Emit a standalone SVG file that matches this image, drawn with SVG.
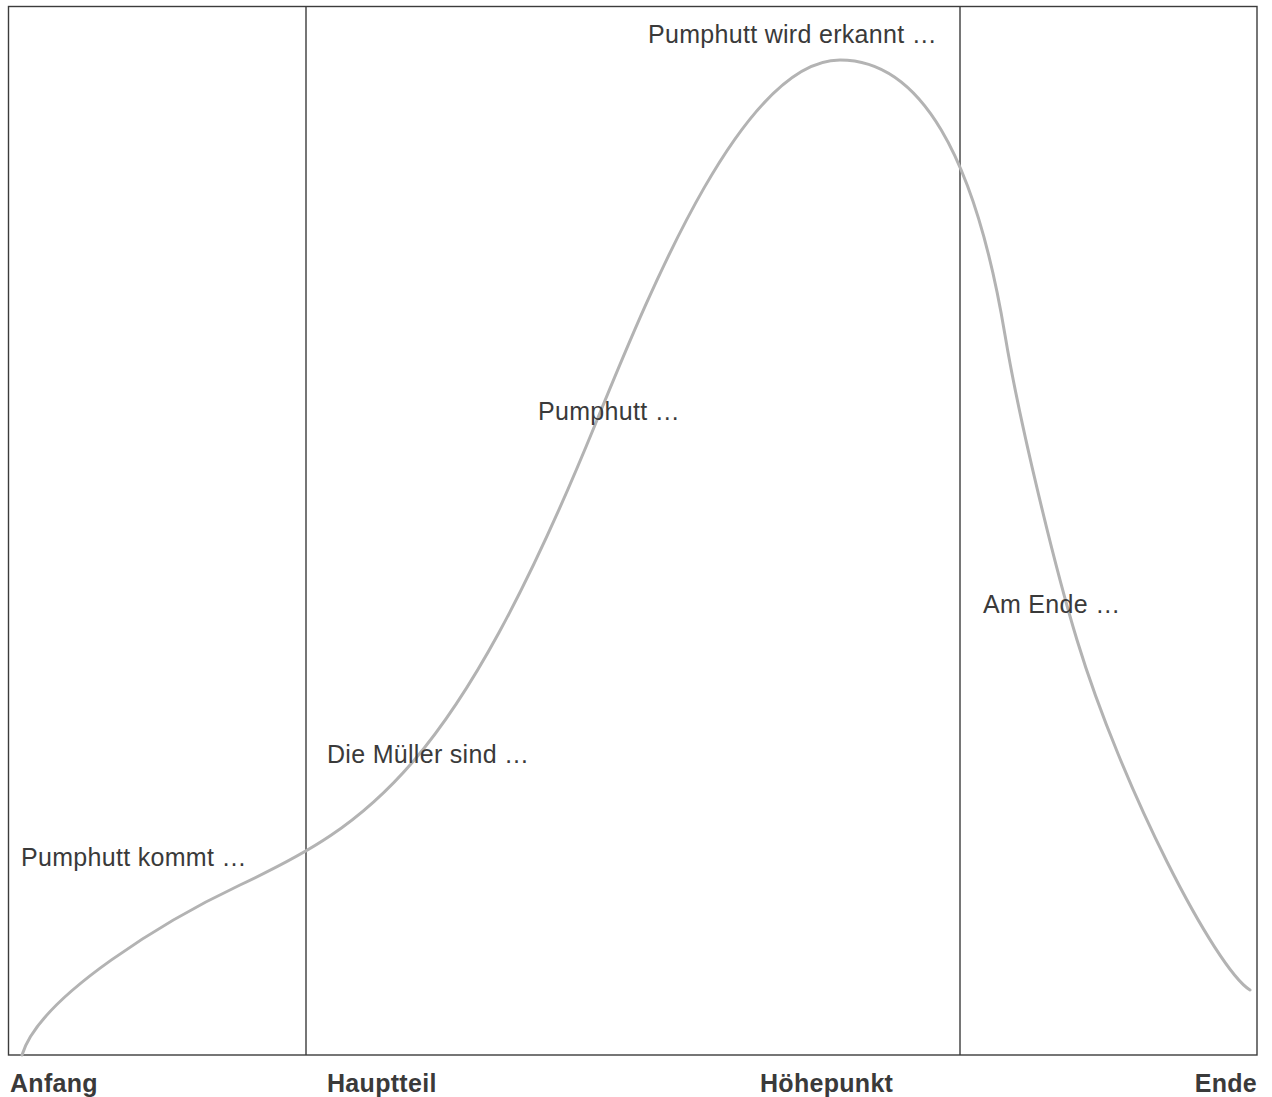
<svg xmlns="http://www.w3.org/2000/svg" width="1272" height="1097" viewBox="0 0 1272 1097">
<style>
.frame{fill:none;stroke:#3c3c3c;stroke-width:1.4}
.div{stroke:#3c3c3c;stroke-width:1.4}
.curve{fill:none;stroke:#b3b3b3;stroke-width:3;stroke-linecap:round}
.lbl{font-family:"Liberation Sans",Arial,sans-serif;font-size:25px;letter-spacing:0.3px;fill:#3a3a3a}
.ax{font-family:"Liberation Sans",Arial,sans-serif;font-size:25px;letter-spacing:0.3px;font-weight:bold;fill:#3a3a3a}
</style>
<rect width="1272" height="1097" fill="#fff"/>
<g id="frame">
<rect class="frame" x="8.5" y="6.5" width="1248.5" height="1048.5"/>
<line class="div" x1="306" y1="6.5" x2="306" y2="1055"/>
<line class="div" x1="960" y1="6.5" x2="960" y2="1055"/>
</g>
<g id="connectors">
<path class="curve" d="M22,1055 C40,995 170,918 240,885 C370,823.9 455,768 595,425 C655,278 745,60 840,60 C920,60 975,155 1005,335 C1020,425 1056,571 1077,640 C1122,788 1215,968 1250,990"/>
</g>
<g id="label-kommt"><text class="lbl" x="21" y="866">Pumphutt kommt …</text></g>
<g id="label-mueller"><text class="lbl" x="327" y="763">Die Müller sind …</text></g>
<g id="label-pumphutt"><text class="lbl" x="538" y="420">Pumphutt …</text></g>
<g id="label-erkannt"><text class="lbl" x="648" y="43">Pumphutt wird erkannt …</text></g>
<g id="label-amende"><text class="lbl" x="983" y="613">Am Ende …</text></g>
<g id="axis-anfang"><text class="ax" x="10" y="1092">Anfang</text></g>
<g id="axis-hauptteil"><text class="ax" x="327" y="1092">Hauptteil</text></g>
<g id="axis-hoehepunkt"><text class="ax" x="760" y="1092">Höhepunkt</text></g>
<g id="axis-ende"><text class="ax" x="1257" y="1092" text-anchor="end">Ende</text></g>
</svg>
